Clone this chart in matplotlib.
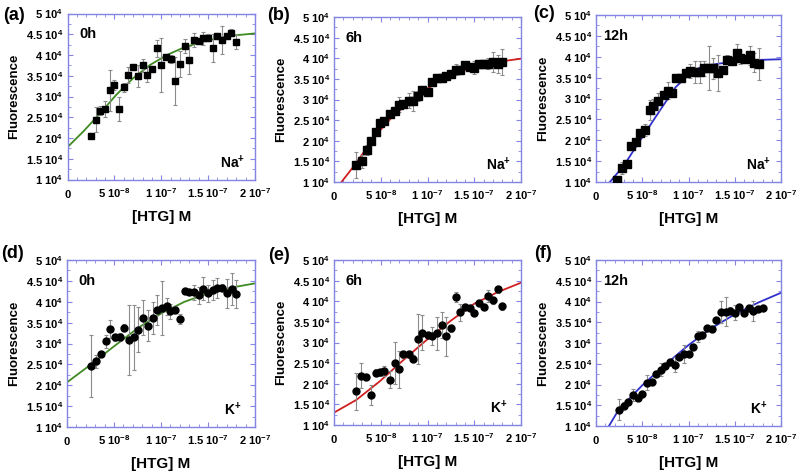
import matplotlib
matplotlib.use("Agg")
import matplotlib.pyplot as plt
import numpy as np
from matplotlib.ticker import MultipleLocator

plt.rcParams['font.family'] = ['Liberation Sans', 'DejaVu Sans']
plt.rcParams['font.weight'] = 'bold'
plt.rcParams['mathtext.fontset'] = 'custom'
plt.rcParams['mathtext.rm'] = 'Liberation Sans:bold'
plt.rcParams['mathtext.bf'] = 'Liberation Sans:bold'
plt.rcParams['mathtext.it'] = 'Liberation Sans:bold'
plt.rcParams['mathtext.default'] = 'bf'

# ---- data (concentration in nM, fluorescence in a.u.) ----
# (a) Na+ 0h
xa = [25, 30, 35, 40, 45, 50, 55, 60, 65, 70, 75, 80, 85, 90, 95, 100,
      105, 110, 115, 120, 125, 130, 135, 140, 145, 150, 155, 160, 165, 170, 174, 180]
ya = [20600, 24400, 26600, 27000, 31500, 32800, 26900, 32200, 35200, 37000, 35000, 37500,
      35300, 36600, 41600, 37600, 39600, 39000, 33800, 37800, 42200, 38800, 43600, 43400,
      44000, 44200, 41600, 44600, 43600, 44600, 45400, 43200]
ea = [500, 3000, 1000, 2000, 4900, 1200, 2900, 1000, 2000, 600, 2600, 1600,
      1800, 600, 2000, 6400, 600, 1000, 5800, 3200, 1600, 3400, 1600, 800,
      1600, 800, 3400, 800, 3400, 800, 800, 1700]
fit_xa = [0, 17, 35, 52, 70, 88, 106, 124, 141, 159, 177, 200]
fit_ya = [17800, 21600, 26000, 30400, 34400, 37600, 40000, 41800, 43000, 44000, 44700, 45200]

# (b) Na+ 6h
xb = [24, 30, 35, 40, 45, 49, 54, 60, 65, 70, 74, 80, 84, 90, 94, 100,
      105, 110, 115, 120, 125, 130, 135, 140, 145, 150, 155, 160, 165, 170, 175, 180]
yb = [14200, 15000, 17700, 19900, 22200, 24200, 24700, 26500, 27100, 28700, 28900, 29700,
      29700, 30900, 32200, 31900, 34200, 35300, 35300, 35600, 36100, 37200, 37200, 38300,
      37900, 37700, 38500, 38700, 38700, 39100, 38700, 39100]
eb = [3150, 1500, 1200, 800, 800, 800, 800, 800, 800, 1800, 800, 1800,
      2400, 1200, 1000, 1000, 600, 600, 1000, 600, 600, 1300, 600, 600,
      800, 1600, 800, 800, 1400, 2400, 2200, 3100]
fit_xb = [8, 20, 34, 48, 62, 77, 95, 112, 130, 148, 166, 184, 200]
fit_yb = [10000, 13500, 17900, 22200, 25700, 28700, 31900, 34400, 36400, 37800, 38700, 39400, 39900]

# (c) Na+ 12h
xc = [23, 28, 33, 38, 43, 48, 53, 58, 62, 67, 73, 78, 82, 87, 92, 97,
      102, 107, 112, 117, 122, 127, 132, 137, 142, 147, 152, 156, 161, 166, 171, 176]
yc = [10500, 13300, 14300, 18700, 19600, 21800, 22400, 27300, 28100, 29300, 30900, 31900,
      31300, 34800, 34800, 36000, 36600, 36400, 36400, 37200, 37300, 37200, 36000, 36800,
      39300, 38900, 41000, 39800, 39400, 40300, 38600, 38300]
ec = [400, 1400, 600, 600, 600, 600, 1400, 2400, 1800, 2000, 800, 2000,
      800, 600, 600, 800, 1600, 2600, 2600, 1800, 5300, 2600, 4300, 800,
      1000, 600, 2000, 1600, 800, 2200, 2200, 3900]
fit_xc = [15, 30, 44, 58, 72, 86, 100, 113, 131, 148, 169, 200]
fit_yc = [10000, 13900, 18700, 23400, 28100, 32700, 35600, 37500, 38300, 38800, 39200, 39400]

# (d) K+ 0h
xd = [26, 31, 36, 41, 46, 51, 56, 61, 66, 71, 76, 81, 86, 91, 96, 101,
      106, 110, 115, 120, 125, 130, 135, 140, 145, 150, 155, 160, 165, 170, 175, 180]
yd = [24700, 25700, 27500, 30500, 33400, 31500, 31500, 33800, 30900, 31500, 33300, 36200,
      34300, 36100, 38100, 38500, 38900, 37700, 38100, 35800, 42600, 42300, 42300, 41500,
      43100, 42000, 42800, 43400, 43400, 42000, 43100, 41800]
ed = [7400, 1600, 800, 1600, 2200, 800, 1000, 800, 8400, 7800, 5400, 4200,
      3800, 3800, 3600, 6400, 2000, 1800, 800, 1200, 600, 800, 1800, 2000,
      2800, 2000, 2400, 2400, 800, 3400, 3800, 3400]
fit_xd = [0, 25, 51, 76, 101, 125, 150, 175, 200]
fit_yd = [20700, 24900, 29500, 33800, 37300, 40000, 42000, 43400, 44400]

# (e) K+ 6h
xe = [24, 29, 34, 40, 45, 49, 54, 60, 65, 70, 74, 80, 84, 90, 94, 100,
      105, 110, 115, 120, 125, 130, 135, 140, 145, 150, 155, 160, 165, 170, 175, 180]
ye = [18200, 22000, 21600, 17300, 22700, 22800, 23100, 21000, 25100, 23500, 27100, 27100,
      26100, 30800, 32400, 31800, 31500, 32200, 34200, 31500, 33400, 41000, 37300, 38600,
      38400, 37200, 39600, 38600, 41300, 40200, 42900, 38800]
ee = [4500, 3100, 800, 2400, 800, 800, 1200, 2000, 5100, 4500, 800, 800,
      800, 6100, 4300, 800, 2200, 3900, 3100, 4700, 800, 1200, 2000, 800,
      800, 800, 800, 800, 1400, 800, 800, 800]
fit_xe = [0, 24, 49, 74, 100, 125, 150, 175, 200]
fit_ye = [13000, 16100, 20600, 25700, 30800, 35300, 39400, 42200, 44500]

# (f) K+ 12h
xf = [25, 30, 35, 40, 45, 50, 55, 60, 65, 70, 75, 80, 85, 90, 95, 100,
      105, 110, 115, 120, 125, 130, 135, 140, 145, 150, 155, 160, 165, 170, 175, 180]
yf = [13900, 14900, 15700, 17500, 16800, 17700, 20400, 20700, 22500, 23600, 24500, 25500,
      24800, 26700, 27300, 27300, 29100, 31600, 32000, 33600, 33400, 35600, 37500, 37500,
      37800, 37300, 38700, 37300, 38500, 37700, 38300, 38500]
ef = [2500, 800, 600, 1400, 600, 600, 1800, 600, 600, 1600, 600, 600,
      1800, 600, 2200, 600, 600, 1300, 600, 600, 600, 600, 2600, 3500,
      800, 1800, 600, 600, 600, 2400, 600, 600]
fit_xf = [14, 25, 50, 75, 100, 125, 150, 175, 200]
fit_yf = [10000, 14100, 19800, 24800, 29500, 33600, 36900, 39700, 42100]

panel_tags = ['(a)', '(b)', '(c)', '(d)', '(e)', '(f)']
hour_labels = ['0h', '6h', '12h', '0h', '6h', '12h']
ion_labels = ['Na$^{+}$', 'Na$^{+}$', 'Na$^{+}$', 'K$^{+}$', 'K$^{+}$', 'K$^{+}$']

ytick_vals = [10000, 15000, 20000, 25000, 30000, 35000, 40000, 45000, 50000]
ytick_labels = ['1 10$^{4}$', '1.5 10$^{4}$', '2 10$^{4}$', '2.5 10$^{4}$', '3 10$^{4}$',
                '3.5 10$^{4}$', '4 10$^{4}$', '4.5 10$^{4}$', '5 10$^{4}$']
xtick_vals = [0, 50, 100, 150, 200]
xtick_labels = ['0', '5 10$^{-8}$', '1 10$^{-7}$', '1.5 10$^{-7}$', '2 10$^{-7}$']

# ---- layout ----
W, H = 800, 475
fig = plt.figure(figsize=(8, 4.75), dpi=100)

# frame boxes in pixels: left, top, right, bottom
boxes = [(67.5, 13.5, 255, 179.5), (334, 17, 521, 182), (596, 15, 781, 182),
         (67, 260, 255, 427), (334, 260, 521, 425), (596, 260, 781, 426)]
tag_pos = [(14, 16), (279, 15), (544, 13), (13, 253), (279, 255), (543, 253)]

series = [(xa, ya, ea, fit_xa, fit_ya, 's', 4.3, '#3f8a22'),
          (xb, yb, eb, fit_xb, fit_yb, 's', 5.5, '#d01f1f'),
          (xc, yc, ec, fit_xc, fit_yc, 's', 5.5, '#2f2fcc'),
          (xd, yd, ed, fit_xd, fit_yd, 'o', 5.0, '#3f8a22'),
          (xe, ye, ee, fit_xe, fit_ye, 'o', 5.0, '#d01f1f'),
          (xf, yf, ef, fit_xf, fit_yf, 'o', 5.0, '#2f2fcc')]

frame_col = '#8484e4'

for i, (x, y, err, fx, fy, mk, ms, col) in enumerate(series):
    l, t, r, b = boxes[i]
    ax = fig.add_axes([l / W, 1 - b / H, (r - l) / W, (b - t) / H])
    xm = np.array(x) * 1e-9
    ax.plot(np.array(fx) * 1e-9, fy, color=col, lw=1.3, zorder=2)
    ax.errorbar(xm, y, yerr=err, fmt='none', ecolor='#8c8c8c', elinewidth=0.8,
                capsize=1.5, capthick=0.8, zorder=3)
    ax.plot(xm, y, ls='none', marker=mk, ms=ms, color='black', zorder=4)

    ax.set_xlim(0, 2e-7)
    ax.set_ylim(1e4, 5e4)
    ax.set_xticks(np.array(xtick_vals) * 1e-9, xtick_labels, va='baseline')
    ax.set_yticks(ytick_vals, ytick_labels)
    ax.xaxis.set_minor_locator(MultipleLocator(1e-8))
    ax.yaxis.set_minor_locator(MultipleLocator(2500))
    ax.tick_params(which='both', direction='in', top=True, right=True, color=frame_col,
                   labelsize=8)
    ax.tick_params(which='major', length=3.5, width=0.8)
    ax.tick_params(which='minor', length=2, width=0.6)
    ax.tick_params(axis='x', pad=13)
    ax.tick_params(axis='y', pad=3)
    for s in ax.spines.values():
        s.set_color(frame_col)
        s.set_linewidth(1.0)

    cx = (l + r) / 2
    fig.text(cx / W, 1 - (b + 37) / H, '[HTG] M', ha='center', va='center', fontsize=11)
    fig.text((l - 53) / W, 1 - ((t + b) / 2) / H, 'Fluorescence', rotation=90,
             ha='center', va='center', fontsize=9.5)
    fig.text((l + 20) / W, 1 - (t + 21) / H, hour_labels[i], ha='center', va='center',
             fontsize=10.5)
    fig.text((r - 22) / W, 1 - (b - 17) / H, ion_labels[i], ha='center', va='center',
             fontsize=10)
    fig.text(tag_pos[i][0] / W, 1 - tag_pos[i][1] / H, panel_tags[i], ha='center',
             va='center', fontsize=13)

fig.savefig('out.png', dpi=100)
